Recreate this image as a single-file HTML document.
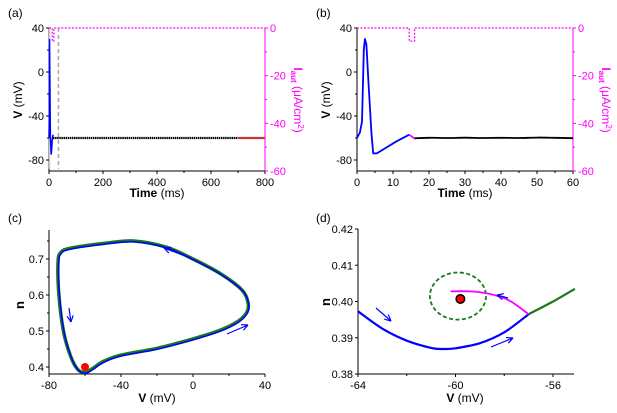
<!DOCTYPE html>
<html><head><meta charset="utf-8">
<style>
body{margin:0;background:#fff;}
svg{display:block;font-family:"Liberation Sans",Arial,sans-serif;}
</style></head>
<body>
<svg id="fig" width="617" height="413" viewBox="0 0 617 413" xmlns="http://www.w3.org/2000/svg"></svg>
<script>
// ---- data ----
const aTime=[0,1,2,3,5,8,10,12,15];
const aV=[-60,-40,30,0,-60,-75,-70,-62,-57];
const aRestT=[15,100,300,500,700];
const aRestV=[-60,-60,-60,-60,-60];
const aTail=[700,800];
const aTailV=[-60,-60];
const aIautT=[0,12,12,18,18,800];
const aIaut=[0,0,-5.5,-5.5,0,0];
const bBlueT=[0,0.8,1.4,1.9,2.2,2.6,3.2,4,4.5,5.5,8,11,14.5];
const bBlueV=[-60,-55,-45,20,30,25,-10,-55,-74,-74,-69,-63,-57];
const bMagT=[14.5,16];
const bMagV=[-57,-60.5];
const bBlackT=[16,20,25,30,35,40,45,50,55,60];
const bBlackV=[-60.3,-59.8,-60,-59.7,-60,-59.8,-60,-59.6,-59.8,-60.2];
const bIautT=[0,14.5,14.5,16,16,60];
const bIaut=[0,0,-5.5,-5.5,0,0];
const cV=[-60,-56,-50,-40,-20,0,15,25,30,30.5,27,15,0,-15,-33,-50,-68,-73.5,-75,-74.5,-72,-68,-64,-60];
const cN=[0.385,0.395,0.415,0.433,0.452,0.478,0.502,0.527,0.553,0.58,0.615,0.66,0.70,0.733,0.75,0.743,0.73,0.718,0.69,0.6,0.5,0.43,0.393,0.385];
const dBlueV=[-64,-63,-62,-61,-60.5,-60,-59,-58,-57];
const dBlueN=[0.3973,0.3925,0.3892,0.3872,0.3869,0.3871,0.3885,0.3915,0.3965];
const dGreenV=[-57,-56,-55.1];
const dGreenN=[0.3965,0.4,0.4035];
const dMagV=[-57,-57.8,-58.6,-59.4,-60.2];
const dMagN=[0.3965,0.4003,0.4021,0.4028,0.4028];
const dEll=[-59.9,0.4015,1.15,0.0065];
const dDot=[-59.8,0.4007];

const svg=document.getElementById('fig');
const NS='http://www.w3.org/2000/svg';
function el(tag,attrs,parent){const e=document.createElementNS(NS,tag);for(const k in attrs)e.setAttribute(k,attrs[k]);(parent||svg).appendChild(e);return e;}
function lin(d0,d1,r0,r1){return v=>r0+(v-d0)*(r1-r0)/(d1-d0);}
function path(xs,ys,sx,sy){return xs.map((x,i)=>(i?'L':'M')+sx(x).toFixed(1)+','+sy(ys[i]).toFixed(1)).join(' ');}
function smooth(xs,ys,sx,sy,closed){
  let P=xs.map((x,i)=>[sx(x),sy(ys[i])]);
  if(closed)P=P.slice(0,-1);
  const n=P.length;let d='M'+P[0][0].toFixed(1)+','+P[0][1].toFixed(1);
  const get=i=>closed?P[(i+n)%n]:P[Math.max(0,Math.min(n-1,i))];
  const last=closed?n:n-1;
  for(let i=0;i<last;i++){const p0=get(i-1),p1=get(i),p2=get(i+1),p3=get(i+2);
    const c1=[p1[0]+(p2[0]-p0[0])/6,p1[1]+(p2[1]-p0[1])/6],c2=[p2[0]-(p3[0]-p1[0])/6,p2[1]-(p3[1]-p1[1])/6];
    d+=` C${c1[0].toFixed(1)},${c1[1].toFixed(1)} ${c2[0].toFixed(1)},${c2[1].toFixed(1)} ${p2[0].toFixed(1)},${p2[1].toFixed(1)}`;}
  return d+(closed?'Z':'');
}
function txt(x,y,s,attrs,parent){const t=el('text',Object.assign({x:x,y:y,'font-size':11},attrs),parent);t.textContent=s;return t;}

function frame(g,x0,x1,y0,y1,right){
  el('line',{x1:x0,y1:y0,x2:x0,y2:y1,stroke:'#000','stroke-width':1},g);
  el('line',{x1:x0,y1:y1,x2:x1,y2:y1,stroke:'#000','stroke-width':1},g);
  if(right){el('line',{x1:x1,y1:y0,x2:x1,y2:y1,stroke:'#f0f','stroke-width':1},g);}
}
function xticks(g,vals,sx,y,minor){
  vals.forEach(v=>{const x=sx(v);el('line',{x1:x,y1:y,x2:x,y2:y+3,stroke:'#000'},g);
    const t=txt(x,y+15,String(v),{'text-anchor':'middle'},g);
    });
  (minor||[]).forEach(v=>{const x=sx(v);el('line',{x1:x,y1:y,x2:x,y2:y+2,stroke:'#000'},g);});
}
function yticks(g,vals,sy,x,fmt,minor){
  vals.forEach(v=>{const y=sy(v);el('line',{x1:x-3,y1:y,x2:x,y2:y,stroke:'#000'},g);
    const t=txt(x-5,y+4,fmt(v),{'text-anchor':'end'},g);
    });
  (minor||[]).forEach(v=>{const y=sy(v);el('line',{x1:x-2,y1:y,x2:x,y2:y,stroke:'#000'},g);});
}
function rticks(g,vals,sy,x,minor){
  vals.forEach(v=>{const y=sy(v);el('line',{x1:x,y1:y,x2:x+3,y2:y,stroke:'#f0f'},g);
    const t=txt(x+5,y+4,String(v),{'text-anchor':'start',fill:'#f0f'},g);
    });
  (minor||[]).forEach(v=>{const y=sy(v);el('line',{x1:x,y1:y,x2:x+2,y2:y,stroke:'#f0f'},g);});
}
function vlabel(g,x,y){const t=el('text',{transform:`translate(${x},${y}) rotate(-90)`,'font-size':12,'text-anchor':'middle'},g);
  t.innerHTML='<tspan font-weight="bold">V</tspan> (mV)';}
function iautLabel(g,x,y){const t=el('text',{transform:`translate(${x},${y}) rotate(90)`,'font-size':12,'text-anchor':'middle',fill:'#f0f'},g);
  t.innerHTML='<tspan font-weight="bold">I</tspan><tspan font-weight="bold" font-size="8" dy="3">aut</tspan><tspan dy="-3"> (μA/cm</tspan><tspan font-size="8" dy="-4">2</tspan><tspan dy="4">)</tspan>';
  }
function xlabel(g,x,y,html,name){const t=el('text',{x:x,y:y,'font-size':12,'text-anchor':'middle'},g);t.innerHTML=html;
  }
function plabel(x,y,s){const t=txt(x,y,s,{'font-size':12});}

// ---- Panel A ----
{const g=el('g',{});
 const sx=lin(0,800,49,265), sy=lin(40,-90,28,171), sr=lin(0,-60,28,171);
 frame(g,49,265,28,171,true);
 el('line',{x1:sx(35),y1:sy(40),x2:sx(35),y2:sy(-88),stroke:'#aaa','stroke-width':1.5,'stroke-dasharray':'4,3'},g);
 el('line',{x1:sx(2),y1:sy(40),x2:sx(2),y2:sy(-88),stroke:'#ccc','stroke-width':1.5},g);
 let p=el('path',{d:path(aIautT,aIaut,sx,sr),fill:'none',stroke:'#f0f','stroke-width':1.2,'stroke-dasharray':'2,1.5'},g);
 
 p=el('path',{d:path(aTime,aV,sx,sy),fill:'none',stroke:'#00f','stroke-width':1.5},g);
 
 p=el('path',{d:path(aRestT,aRestV,sx,sy),fill:'none',stroke:'#000','stroke-width':2.2,'stroke-dasharray':'1.5,0.6'},g);
 
 p=el('path',{d:path(aTail,aTailV,sx,sy),fill:'none',stroke:'#c33','stroke-width':2.2},g);
 
 xticks(g,[0,200,400,600,800],sx,171,[100,300,500,700]);
 yticks(g,[40,0,-40,-80],sy,49,String,[20,-20,-60]);
 rticks(g,[0,-20,-40,-60],sr,265,[-10,-30,-50]);
 vlabel(g,22,100);iautLabel(g,294,100);
 xlabel(g,157,197,'<tspan font-weight="bold">Time</tspan> (ms)','x-axis-title');
 plabel(8,17,'(a)');}

// ---- Panel B ----
{const g=el('g',{});
 const sx=lin(0,60,357,573), sy=lin(40,-90,28,171), sr=lin(0,-60,28,171);
 frame(g,357,573,28,171,true);
 let p=el('path',{d:path(bIautT,bIaut,sx,sr),fill:'none',stroke:'#f0f','stroke-width':1.2,'stroke-dasharray':'2,1.5'},g);
 
 p=el('path',{d:path(bBlueT,bBlueV,sx,sy),fill:'none',stroke:'#00f','stroke-width':1.8,'stroke-linejoin':'round'},g);
 
 p=el('path',{d:path(bMagT,bMagV,sx,sy),fill:'none',stroke:'#f0f','stroke-width':1.8},g);
 
 p=el('path',{d:smooth(bBlackT,bBlackV,sx,sy),fill:'none',stroke:'#000','stroke-width':1.8},g);
 
 xticks(g,[0,10,20,30,40,50,60],sx,171,[5,15,25,35,45,55]);
 yticks(g,[40,0,-40,-80],sy,357,String,[20,-20,-60]);
 rticks(g,[0,-20,-40,-60],sr,573,[-10,-30,-50]);
 vlabel(g,330,100);iautLabel(g,602,100);
 xlabel(g,465,197,'<tspan font-weight="bold">Time</tspan> (ms)','x-axis-title');
 plabel(316,17,'(b)');}

function arrow(g,x1,y1,x2,y2){
 el('line',{x1:x1,y1:y1,x2:x2,y2:y2,stroke:'#00f','stroke-width':1.2},g);
 const a=Math.atan2(y2-y1,x2-x1),L=7;
 [0.45,-0.45].forEach(d=>el('line',{x1:x2,y1:y2,x2:x2-L*Math.cos(a+d),y2:y2-L*Math.sin(a+d),stroke:'#00f','stroke-width':1.2},g));
}

// ---- Panel C ----
{const g=el('g',{});
 const sx=lin(-80,40,49,265), sy=lin(0.4,0.7,367,259);
 el('line',{x1:49,y1:230,x2:49,y2:374,stroke:'#000'},g);
 el('line',{x1:49,y1:374,x2:265,y2:374,stroke:'#000'},g);
 let p=el('path',{d:smooth(cV,cN,sx,sy,true),fill:'none',stroke:'#1a7a1a','stroke-width':3.5},g);
 
 p=el('path',{d:smooth(cV,cN,sx,sy,true),fill:'none',stroke:'#00f','stroke-width':1.5,transform:'translate(0.6,0.8)'},g);
 
 const dot=el('circle',{cx:sx(-60),cy:sy(0.4),r:4,fill:'#f00'},g);
 
 arrow(g,191,258,164,248);arrow(g,69,308,71,322);arrow(g,227,334,248,325);
 xticks(g,[-80,-40,0,40],sx,374,[-60,-20,20]);
 yticks(g,[0.4,0.5,0.6,0.7],sy,49,v=>v.toFixed(1),[0.45,0.55,0.65,0.75]);
 const t=txt(24,305,'n',{'font-size':13,'font-weight':'bold',transform:'rotate(-90 24 305)','text-anchor':'middle'},g);
 
 xlabel(g,157,402,'<tspan font-weight="bold">V</tspan> (mV)','x-axis-title');
 plabel(8,222,'(c)');}

// ---- Panel D ----
{const g=el('g',{});
 const sx=lin(-64,-56,358,553), sy=lin(0.42,0.38,229,374);
 el('line',{x1:358,y1:229,x2:358,y2:374,stroke:'#000'},g);
 el('line',{x1:358,y1:374,x2:574,y2:374,stroke:'#000'},g);
 const e=el('ellipse',{cx:sx(dEll[0]),cy:sy(dEll[1]),rx:dEll[2]*195/8,ry:dEll[3]*145/0.04,fill:'none',stroke:'#1a7a1a','stroke-width':1.8,'stroke-dasharray':'4,2.5'},g);
 
 let p=el('path',{d:smooth(dGreenV,dGreenN,sx,sy),fill:'none',stroke:'#1a7a1a','stroke-width':2.2},g);
 
 p=el('path',{d:smooth(dBlueV,dBlueN,sx,sy),fill:'none',stroke:'#00f','stroke-width':2.2},g);
 
 p=el('path',{d:smooth(dMagV,dMagN,sx,sy),fill:'none',stroke:'#f0f','stroke-width':1.8},g);
 
 el('circle',{cx:sx(dDot[0]),cy:sy(dDot[1]),r:5,fill:'#000'},g);
 const dot=el('circle',{cx:sx(dDot[0]),cy:sy(dDot[1]),r:3.5,fill:'#f00'},g);
 
 arrow(g,376,308,391,321);arrow(g,508,298,497,295);arrow(g,491,347,513,338);
 xticks(g,[-64,-60,-56],sx,374,[-62,-58]);
 yticks(g,[0.42,0.41,0.40,0.39,0.38],sy,358,v=>v.toFixed(2),[]);
 const t=txt(330,302,'n',{'font-size':13,'font-weight':'bold',transform:'rotate(-90 330 302)','text-anchor':'middle'},g);
 
 xlabel(g,465,402,'<tspan font-weight="bold">V</tspan> (mV)','x-axis-title');
 plabel(316,222,'(d)');}
</script>
</body></html>
